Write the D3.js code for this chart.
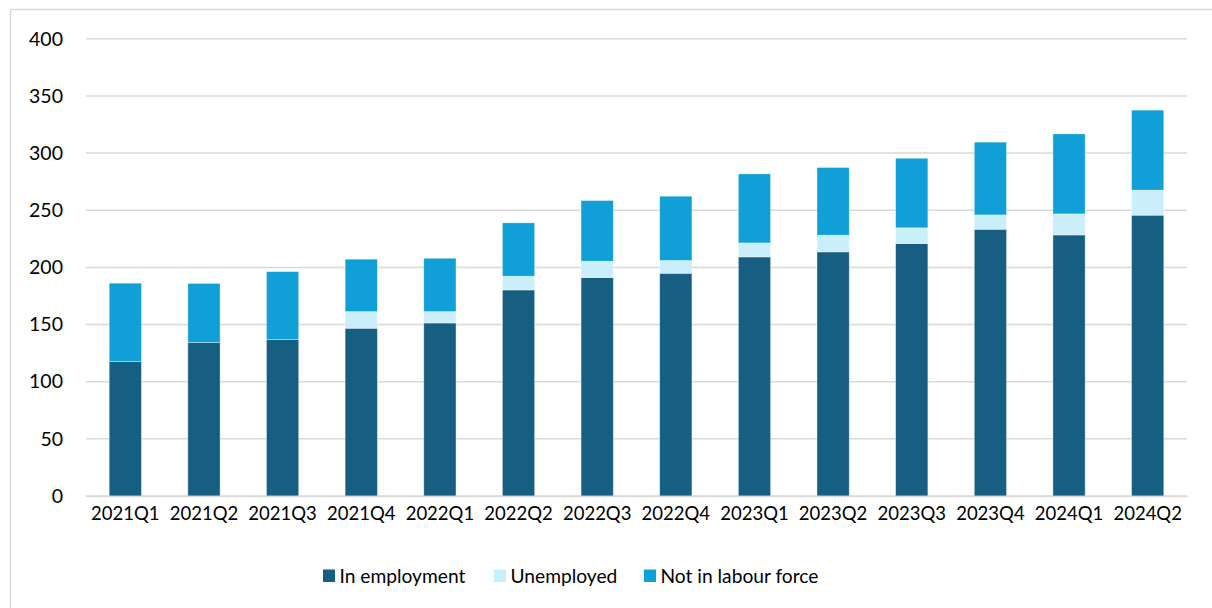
<!DOCTYPE html>
<html>
<head>
<meta charset="utf-8">
<script src="https://cdn.jsdelivr.net/npm/d3@7"></script>
<style>
  html, body { margin: 0; padding: 0; background: #fff; }
  svg { display: block; }
  text { font-family: Lato, "Open Sans", sans-serif; fill: #000; }
</style>
</head>
<body>
<svg id="chart" width="1212" height="608"></svg>
<script>
// Quarterly population breakdown by labour force status (thousands)
const quarters = ["2021Q1","2021Q2","2021Q3","2021Q4","2022Q1","2022Q2","2022Q3",
                  "2022Q4","2023Q1","2023Q2","2023Q3","2023Q4","2024Q1","2024Q2"];
const inEmployment   = [117.6, 134.2, 136.8, 146.8, 151.4, 180.3, 191.1, 194.9, 209.2, 213.6, 220.9, 233.4, 228.4, 245.7];
const unemployed     = [0, 0, 0, 14.5, 9.9, 12.0, 14.3, 11.1, 12.2, 14.6, 13.7, 12.5, 18.4, 21.9];
const notInLabour    = [68.6, 51.8, 59.5, 45.9, 46.7, 46.7, 53.1, 56.3, 60.4, 59.2, 60.9, 63.7, 70.0, 70.0];
const yTicks = [0, 50, 100, 150, 200, 250, 300, 350, 400];
const seriesNames = ["In employment", "Unemployed", "Not in labour force"];
const seriesColors = ["#175f82", "#cbeefb", "#109fd6"];

const rows = quarters.map((q, i) => ({
  quarter: q,
  "In employment": inEmployment[i],
  "Unemployed": unemployed[i],
  "Not in labour force": notInLabour[i]
}));

const svg = d3.select("#chart");
const W = 1212, H = 608;
const plot = { left: 86, right: 1187, top: 38.8, bottom: 496 };

// outer frame (top and left edges)
svg.append("path")
  .attr("d", `M10.5,${H} L10.5,9.5 L${W},9.5`)
  .attr("fill", "none")
  .attr("stroke", "#d9d9d9")
  .attr("stroke-width", 1.5);

const x = d3.scaleBand().domain(quarters).range([plot.left, plot.right]).paddingInner(0.59).paddingOuter(0.295);
const y = d3.scaleLinear().domain([0, 400]).range([plot.bottom, plot.top]);

// horizontal gridlines
svg.append("g").selectAll("line").data(yTicks).join("line")
  .attr("x1", plot.left).attr("x2", plot.right)
  .attr("y1", d => y(d)).attr("y2", d => y(d))
  .attr("stroke", "#d9d9d9").attr("stroke-width", 1.5);

// y axis labels
const yAxis = d3.axisLeft(y).tickValues(yTicks).tickSize(0).tickPadding(0);
const gy = svg.append("g").attr("transform", `translate(63,0)`).call(yAxis);
gy.select(".domain").remove();
gy.selectAll("text").attr("font-size", 19.5).attr("font-family", "Lato, sans-serif").attr("fill", "#000");

// stacked bars
const stack = d3.stack().keys(seriesNames);
const layers = stack(rows);
svg.append("g").selectAll("g").data(layers).join("g")
  .attr("fill", (d, i) => seriesColors[i])
  .selectAll("rect").data(d => d).join("rect")
  .attr("x", d => x(d.data.quarter))
  .attr("width", x.bandwidth())
  .attr("y", d => y(d[1]))
  .attr("height", d => Math.max(0, y(d[0]) - y(d[1])))
  .attr("stroke", "#ffffff").attr("stroke-opacity", 0.5).attr("stroke-width", 0.75);

// x axis baseline and labels
const xAxis = d3.axisBottom(x).tickSize(0).tickPadding(0);
const gx = svg.append("g").attr("transform", `translate(0,${plot.bottom})`).call(xAxis);
gx.select(".domain").attr("stroke", "#d9d9d9").attr("stroke-width", 1.5);
gx.selectAll("text").attr("font-size", 18.5).attr("font-family", "Lato, sans-serif")
  .attr("fill", "#000").attr("dy", "1.3em");

// legend
const legendItems = [
  { name: seriesNames[0], sx: 323 },
  { name: seriesNames[1], sx: 494 },
  { name: seriesNames[2], sx: 644 }
];
const lg = svg.append("g");
legendItems.forEach((d, i) => {
  lg.append("rect").attr("x", d.sx).attr("y", 569.5).attr("width", 12).attr("height", 12.5)
    .attr("fill", seriesColors[i]);
  lg.append("text").attr("x", d.sx + 16.5).attr("y", 583)
    .attr("font-size", 19.2).text(d.name);
});
</script>
</body>
</html>
